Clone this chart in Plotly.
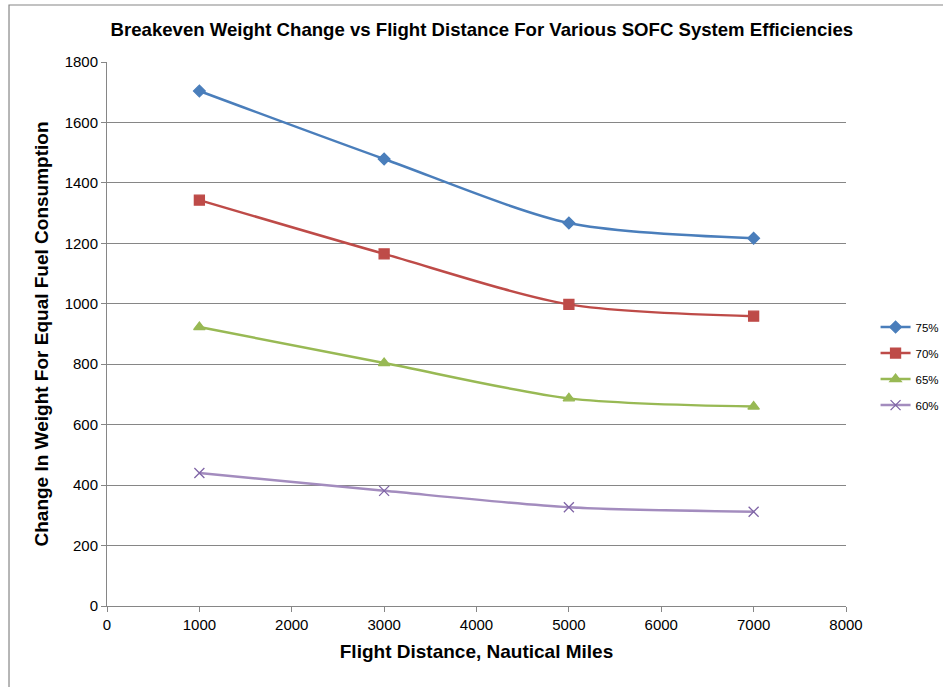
import plotly.graph_objects as go

distance = [1000, 3000, 5000, 7000]
eff_labels = ["75%", "70%", "65%", "60%"]
w75 = [1704, 1479, 1267, 1217]
w70 = [1343, 1165, 998, 959]
w65 = [923, 804, 687, 660]
w60 = [440, 381, 327, 312]

series = [w75, w70, w65, w60]
colors = ["#4A7EBB", "#BE4B48", "#98B954", "#A38CBE"]
marker_colors = ["#4A7EBB", "#BE4B48", "#98B954", "#7F64A6"]
symbols = ["diamond", "square", "triangle-up", "x-thin"]
msizes = [9, 10, 10, 10]

FONT = "Liberation Sans Narrow, Arial Narrow, sans-serif"

fig = go.Figure()
for lab, vals, c, mc, s, ms in zip(eff_labels, series, colors, marker_colors, symbols, msizes):
    fig.add_trace(go.Scatter(
        x=distance, y=vals, name=lab, mode="lines+markers", legendgroup=lab,
        line=dict(color=c, width=2.5, shape="spline", smoothing=0.8),
        marker=dict(symbol=s, size=ms, color=mc, line=dict(color=mc, width=1.3)),
    ))

fig.update_layout(
    width=943, height=687,
    margin=dict(l=107, r=97, t=62, b=81, autoexpand=False),
    paper_bgcolor="white", plot_bgcolor="white",
    font=dict(family=FONT, size=13, color="#000000"),
    title=dict(text="<b>Breakeven Weight Change vs Flight Distance For Various SOFC System Efficiencies</b>",
               x=0.511, xanchor="center", y=0.957, yanchor="middle",
               font=dict(family=FONT, size=18.6, color="#000000")),
    xaxis=dict(range=[0, 8000], tickvals=[0, 1000, 2000, 3000, 4000, 5000, 6000, 7000, 8000],
               showgrid=False, zeroline=False, showline=True, linecolor="#868686", linewidth=1,
               ticks="outside", ticklen=5, tickcolor="#868686",
               tickfont=dict(size=15),
               title=dict(text="<b>Flight Distance, Nautical Miles</b>", font=dict(size=19), standoff=12)),
    yaxis=dict(range=[0, 1800], tickvals=[0, 200, 400, 600, 800, 1000, 1200, 1400, 1600, 1800],
               showgrid=True, gridcolor="#868686", gridwidth=1, zeroline=False,
               showline=True, linecolor="#868686", linewidth=1,
               ticks="outside", ticklen=5, tickcolor="#868686",
               tickfont=dict(size=15),
               title=dict(text="<b>Change In Weight For Equal Fuel Consumption</b>", font=dict(size=19), standoff=10)),
    legend=dict(x=1.04, y=0.441, xanchor="left", yanchor="middle",
                font=dict(size=11.5), tracegroupgap=7, itemwidth=30),
    shapes=[dict(type="rect", xref="paper", yref="paper",
                 x0=-0.1326, x1=1.3, y0=-0.3, y1=1.1048,
                 line=dict(color="#868686", width=1.2), fillcolor="rgba(0,0,0,0)", layer="below")],
)

fig.write_html("out.html")
